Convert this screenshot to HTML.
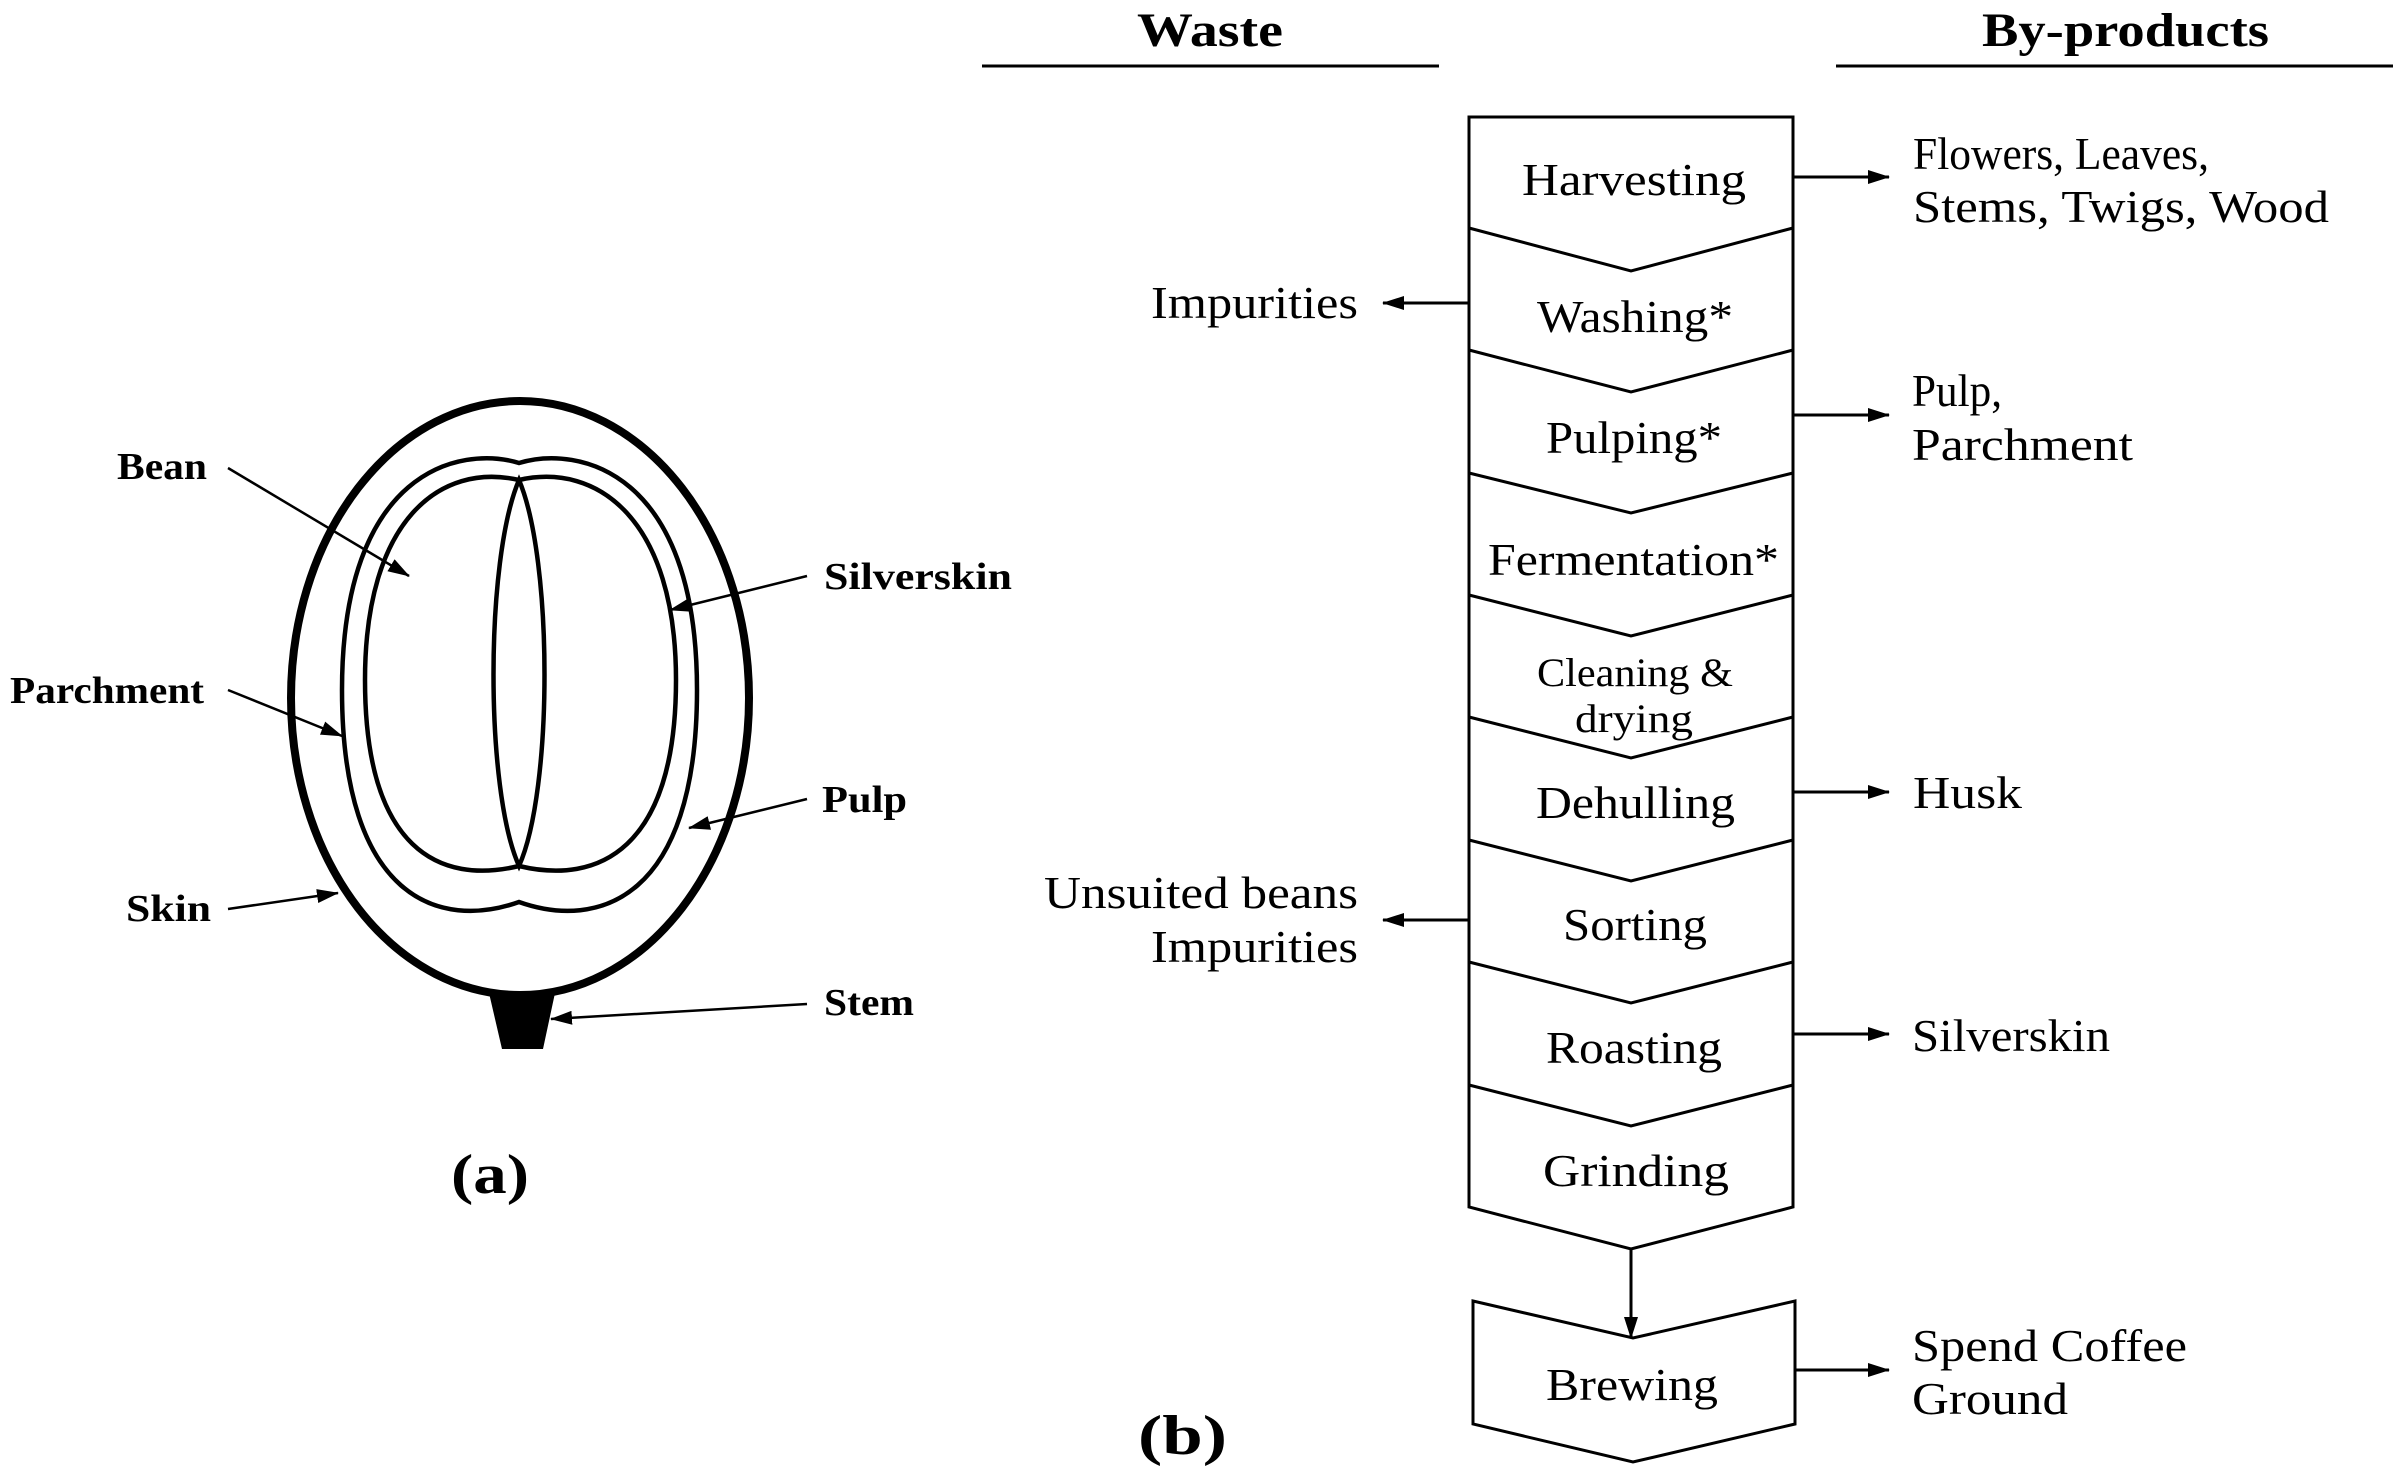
<!DOCTYPE html>
<html><head><style>html,body{margin:0;padding:0;background:#fff}svg{display:block}</style></head><body>
<svg width="2401" height="1473" viewBox="0 0 2401 1473" xmlns="http://www.w3.org/2000/svg">
<defs>
<marker id="b" markerWidth="22" markerHeight="14" refX="21" refY="7" orient="auto" markerUnits="userSpaceOnUse" viewBox="0 0 22 14"><path d="M0,0 L22,7 L0,14 Z" fill="#000"/></marker>
</defs>
<g fill="none" stroke="#000">
<ellipse cx="520" cy="698" rx="229" ry="297" stroke-width="8"/>
<path d="M519,463 C460,445 342,470 342,690 C342,900 440,930 519,902 C598,930 697,900 697,690 C697,470 578,445 519,463 Z" stroke-width="4.5"/>
<path d="M519,480 C440,462 365,520 365,680 C365,850 440,885 519,866 C598,885 676,850 676,680 C676,520 598,462 519,480 Z" stroke-width="4.5"/>
<path d="M519,480 C485,560 485,790 519,866 C553,790 553,560 519,480 Z" stroke-width="4.5"/>
</g>
<path d="M489,993 L555,993 L543,1049 L502,1049 Z" fill="#000"/>
<g stroke="#000" stroke-width="2.5" marker-end="url(#b)">
<line x1="228" y1="468" x2="409" y2="576"/>
<line x1="807" y1="576" x2="670" y2="610"/>
<line x1="228" y1="690" x2="342" y2="736"/>
<line x1="807" y1="799" x2="689" y2="828"/>
<line x1="228" y1="909" x2="338" y2="893"/>
<line x1="807" y1="1004" x2="551" y2="1019"/>
</g>
<g font-family="Liberation Serif, serif" font-weight="bold" font-size="38" lengthAdjust="spacingAndGlyphs">
<text x="117" y="479" textLength="90" lengthAdjust="spacingAndGlyphs">Bean</text>
<text x="824" y="589" textLength="188" lengthAdjust="spacingAndGlyphs">Silverskin</text>
<text x="10" y="703" textLength="194" lengthAdjust="spacingAndGlyphs">Parchment</text>
<text x="822" y="812" textLength="85" lengthAdjust="spacingAndGlyphs">Pulp</text>
<text x="126" y="921" textLength="85" lengthAdjust="spacingAndGlyphs">Skin</text>
<text x="824" y="1015" textLength="90" lengthAdjust="spacingAndGlyphs">Stem</text>
<text x="451" y="1193" font-size="56" textLength="78" lengthAdjust="spacingAndGlyphs">(a)</text>
<text x="1138" y="1454" font-size="56" textLength="89" lengthAdjust="spacingAndGlyphs">(b)</text>
<text x="1137" y="46" font-size="48" textLength="146" lengthAdjust="spacingAndGlyphs">Waste</text>
<text x="1982" y="46" font-size="48" textLength="287" lengthAdjust="spacingAndGlyphs">By-products</text>
</g>
<g stroke="#000" stroke-width="3">
<line x1="982" y1="66" x2="1439" y2="66"/>
<line x1="1836" y1="66" x2="2393" y2="66"/>
</g>
<g fill="none" stroke="#000" stroke-width="3" stroke-linejoin="miter">
<path d="M1469,117 L1793,117 L1793,1207 L1631,1249 L1469,1207 Z"/>
<path d="M1469,228 L1631,271 L1793,228"/>
<path d="M1469,350 L1631,392 L1793,350"/>
<path d="M1469,473 L1631,513 L1793,473"/>
<path d="M1469,595 L1631,636 L1793,595"/>
<path d="M1469,717 L1631,758 L1793,717"/>
<path d="M1469,840 L1631,881 L1793,840"/>
<path d="M1469,962 L1631,1003 L1793,962"/>
<path d="M1469,1085 L1631,1126 L1793,1085"/>
<path d="M1473,1301 L1633,1338 L1795,1301 L1795,1424 L1633,1462 L1473,1424 Z"/>
</g>
<g stroke="#000" stroke-width="3" marker-end="url(#b)">
<line x1="1631" y1="1249" x2="1631" y2="1338"/>
<line x1="1793" y1="177" x2="1889" y2="177"/>
<line x1="1469" y1="303" x2="1383" y2="303"/>
<line x1="1793" y1="415" x2="1889" y2="415"/>
<line x1="1793" y1="792" x2="1889" y2="792"/>
<line x1="1469" y1="920" x2="1383" y2="920"/>
<line x1="1793" y1="1034" x2="1889" y2="1034"/>
<line x1="1795" y1="1370" x2="1889" y2="1370"/>
</g>
<g font-family="Liberation Serif, serif" font-size="46" fill="#000">
<text x="1522" y="195" textLength="224" lengthAdjust="spacingAndGlyphs">Harvesting</text>
<text x="1537" y="332" textLength="196" lengthAdjust="spacingAndGlyphs">Washing*</text>
<text x="1546" y="453" textLength="176" lengthAdjust="spacingAndGlyphs">Pulping*</text>
<text x="1488" y="575" textLength="291" lengthAdjust="spacingAndGlyphs">Fermentation*</text>
<text x="1537" y="686" font-size="40" textLength="196" lengthAdjust="spacingAndGlyphs">Cleaning &amp;</text>
<text x="1575" y="732" font-size="40" textLength="118" lengthAdjust="spacingAndGlyphs">drying</text>
<text x="1536" y="818" textLength="199" lengthAdjust="spacingAndGlyphs">Dehulling</text>
<text x="1563" y="940" textLength="144" lengthAdjust="spacingAndGlyphs">Sorting</text>
<text x="1546" y="1063" textLength="176" lengthAdjust="spacingAndGlyphs">Roasting</text>
<text x="1543" y="1186" textLength="186" lengthAdjust="spacingAndGlyphs">Grinding</text>
<text x="1546" y="1400" textLength="172" lengthAdjust="spacingAndGlyphs">Brewing</text>
<text x="1913" y="169" textLength="296" lengthAdjust="spacingAndGlyphs">Flowers, Leaves,</text>
<text x="1913" y="222" textLength="416" lengthAdjust="spacingAndGlyphs">Stems, Twigs, Wood</text>
<text x="1912" y="406" textLength="90" lengthAdjust="spacingAndGlyphs">Pulp,</text>
<text x="1912" y="460" textLength="221" lengthAdjust="spacingAndGlyphs">Parchment</text>
<text x="1913" y="808" textLength="109" lengthAdjust="spacingAndGlyphs">Husk</text>
<text x="1912" y="1051" textLength="198" lengthAdjust="spacingAndGlyphs">Silverskin</text>
<text x="1912" y="1361" textLength="275" lengthAdjust="spacingAndGlyphs">Spend Coffee</text>
<text x="1912" y="1414" textLength="156" lengthAdjust="spacingAndGlyphs">Ground</text>
<text x="1151" y="318" textLength="207" lengthAdjust="spacingAndGlyphs">Impurities</text>
<text x="1044" y="908" textLength="314" lengthAdjust="spacingAndGlyphs">Unsuited beans</text>
<text x="1151" y="962" textLength="207" lengthAdjust="spacingAndGlyphs">Impurities</text>
</g>
</svg>
</body></html>
